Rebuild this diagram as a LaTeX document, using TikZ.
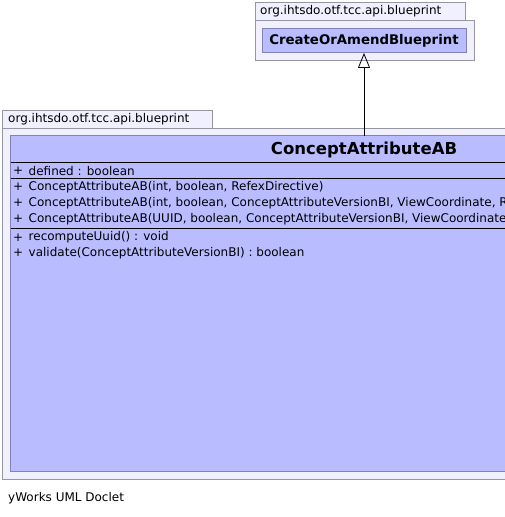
\documentclass[tikz,border=0pt]{standalone}
\usepackage{fontspec}
\setmainfont{DejaVu Sans}
\usetikzlibrary{arrows.meta}
\definecolor{pkgfill}{RGB}{240,240,255}
\definecolor{pkgline}{RGB}{150,150,160}
\definecolor{clsfill}{RGB}{185,189,255}
\definecolor{clsline}{RGB}{130,130,180}
\tikzset{
  pkgbox/.style={draw=pkgline, fill=pkgfill, line width=0.8pt},
  clsbox/.style={draw=clsline, fill=clsfill, line width=0.8pt},
  txt/.style={inner sep=0pt, anchor=west, font=\fontsize{12}{14}\selectfont},
  title/.style={inner sep=0pt, font=\bfseries\fontsize{16.5}{18}\selectfont},
  smalltitle/.style={inner sep=0pt, font=\bfseries\fontsize{13.3}{15}\selectfont},
  sep/.style={draw=black, line width=0.9pt}
}
\begin{document}
\begin{tikzpicture}[x=1pt,y=-1pt]
\useasboundingbox (0,0) rectangle (505,517);
\clip (0,0) rectangle (505,517);
% top package
\path[pkgbox] (255.5,2.5) rectangle (465.5,20.5);
\node[txt] (toptab) at (260,11.5) {org.ihtsdo.otf.tcc.api.blueprint};
\path[pkgbox] (255.5,20.5) rectangle (474.5,60.5);
\node[clsbox, minimum width=204pt, minimum height=24pt, inner sep=0pt] (coab) at (364,40.5) {};
\node[smalltitle] (coabt) at (364,40.5) {CreateOrAmendBlueprint};
% bottom package
\path[pkgbox] (2.5,110.5) rectangle (212.5,128.5);
\node[txt] (bottab) at (8,119.5) {org.ihtsdo.otf.tcc.api.blueprint};
\path[pkgbox] (2.5,128.5) rectangle (520,479.5);
\path[clsbox] (10.5,135.5) rectangle (520,471.5);
\coordinate (cabtop) at (364,135.5);
\node[title] (cab) at (364,149.5) {ConceptAttributeAB};
\draw[sep] (10.5,162.5) -- (520,162.5);
\draw[sep] (10.5,178.5) -- (520,178.5);
\draw[sep] (10.5,228.5) -- (520,228.5);
\foreach \n/\y/\t in {a1/171/{defined : boolean},
  c1/187/{ConceptAttributeAB(int, boolean, RefexDirective)},
  c2/203/{ConceptAttributeAB(int, boolean, ConceptAttributeVersionBI, ViewCoordinate, RefexDirective)},
  c3/219/{ConceptAttributeAB(UUID, boolean, ConceptAttributeVersionBI, ViewCoordinate, RefexDirective)},
  m1/237.5/{recomputeUuid() : void},
  m2/253/{validate(ConceptAttributeVersionBI) : boolean}}{
  \node[txt] (\n p) at (13,\y) {+};
  \node[txt] (\n) at (28.5,\y) {\t};
}
% generalization
\draw[line width=0.8pt, -{Triangle[open, width=12pt, length=15pt, line width=0.8pt]}] (cabtop) -- (coab.south);
% footer
\node[txt] (foot) at (8,498.5) {yWorks UML Doclet};
\end{tikzpicture}
\end{document}
